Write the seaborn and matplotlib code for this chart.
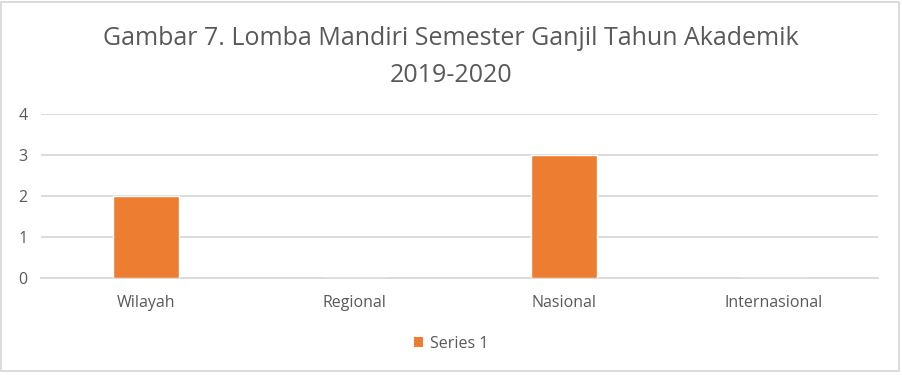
import matplotlib
matplotlib.use("Agg")
import matplotlib.pyplot as plt
import seaborn as sns
import pandas as pd
from matplotlib.patches import Rectangle, Patch

categories = ["Wilayah", "Regional", "Nasional", "Internasional"]
values = [2, 0, 3, 0]
series_name = "Series 1"
title_lines = ["Gambar 7. Lomba Mandiri Semester Ganjil Tahun Akademik", "2019-2020"]

sns.set_theme(style="white")
plt.rcParams['font.family'] = ['Open Sans', 'DejaVu Sans']

df = pd.DataFrame({"Kategori": categories, "Jumlah": values})

text_color = "#595959"
grid_color = "#D9D9D9"
bar_color = "#ED7D31"

fig = plt.figure(figsize=(9.02, 3.75), dpi=100)
ax = fig.add_axes([41/902, 1-278/375, (878-41)/902, (278-114)/375])

sns.barplot(data=df, x="Kategori", y="Jumlah", color=bar_color, width=0.315,
            saturation=1, ax=ax, zorder=3)

ax.set_ylim(0, 4)
ax.set_xlim(-0.5, 3.5)
ax.set_yticks([0, 1, 2, 3, 4])
ax.yaxis.grid(True, color=grid_color, linewidth=1.3, zorder=0)
ax.set_axisbelow(True)
for s in ["top", "right", "left"]:
    ax.spines[s].set_visible(False)
ax.spines["bottom"].set_color(grid_color)
ax.spines["bottom"].set_linewidth(1.3)
ax.set_xlabel("")
ax.set_ylabel("")
ax.tick_params(axis="both", length=0, labelsize=11.5, labelcolor=text_color)
ax.tick_params(axis="x", pad=12)
ax.tick_params(axis="y", pad=13)
for lbl in ax.get_yticklabels():
    lbl.set_horizontalalignment("center")

fig.text(0.5, 1-45/375, title_lines[0], ha="center", va="baseline", fontsize=18,
         color=text_color)
fig.text(0.5, 1-82/375, title_lines[1], ha="center", va="baseline", fontsize=18,
         color=text_color)

handles = [Patch(facecolor=bar_color, edgecolor="none", label=series_name)]
fig.legend(handles=handles, loc="center", bbox_to_anchor=(0.5, 1-344/375),
           frameon=False, fontsize=11.5, labelcolor=text_color,
           handlelength=0.6, handleheight=0.6, handletextpad=0.4)

fig.patches.append(Rectangle((1/902, 4/375), 898/902, 369/375, transform=fig.transFigure,
                             fill=False, edgecolor=grid_color, linewidth=1.3))

fig.savefig("out.png", dpi=100)
